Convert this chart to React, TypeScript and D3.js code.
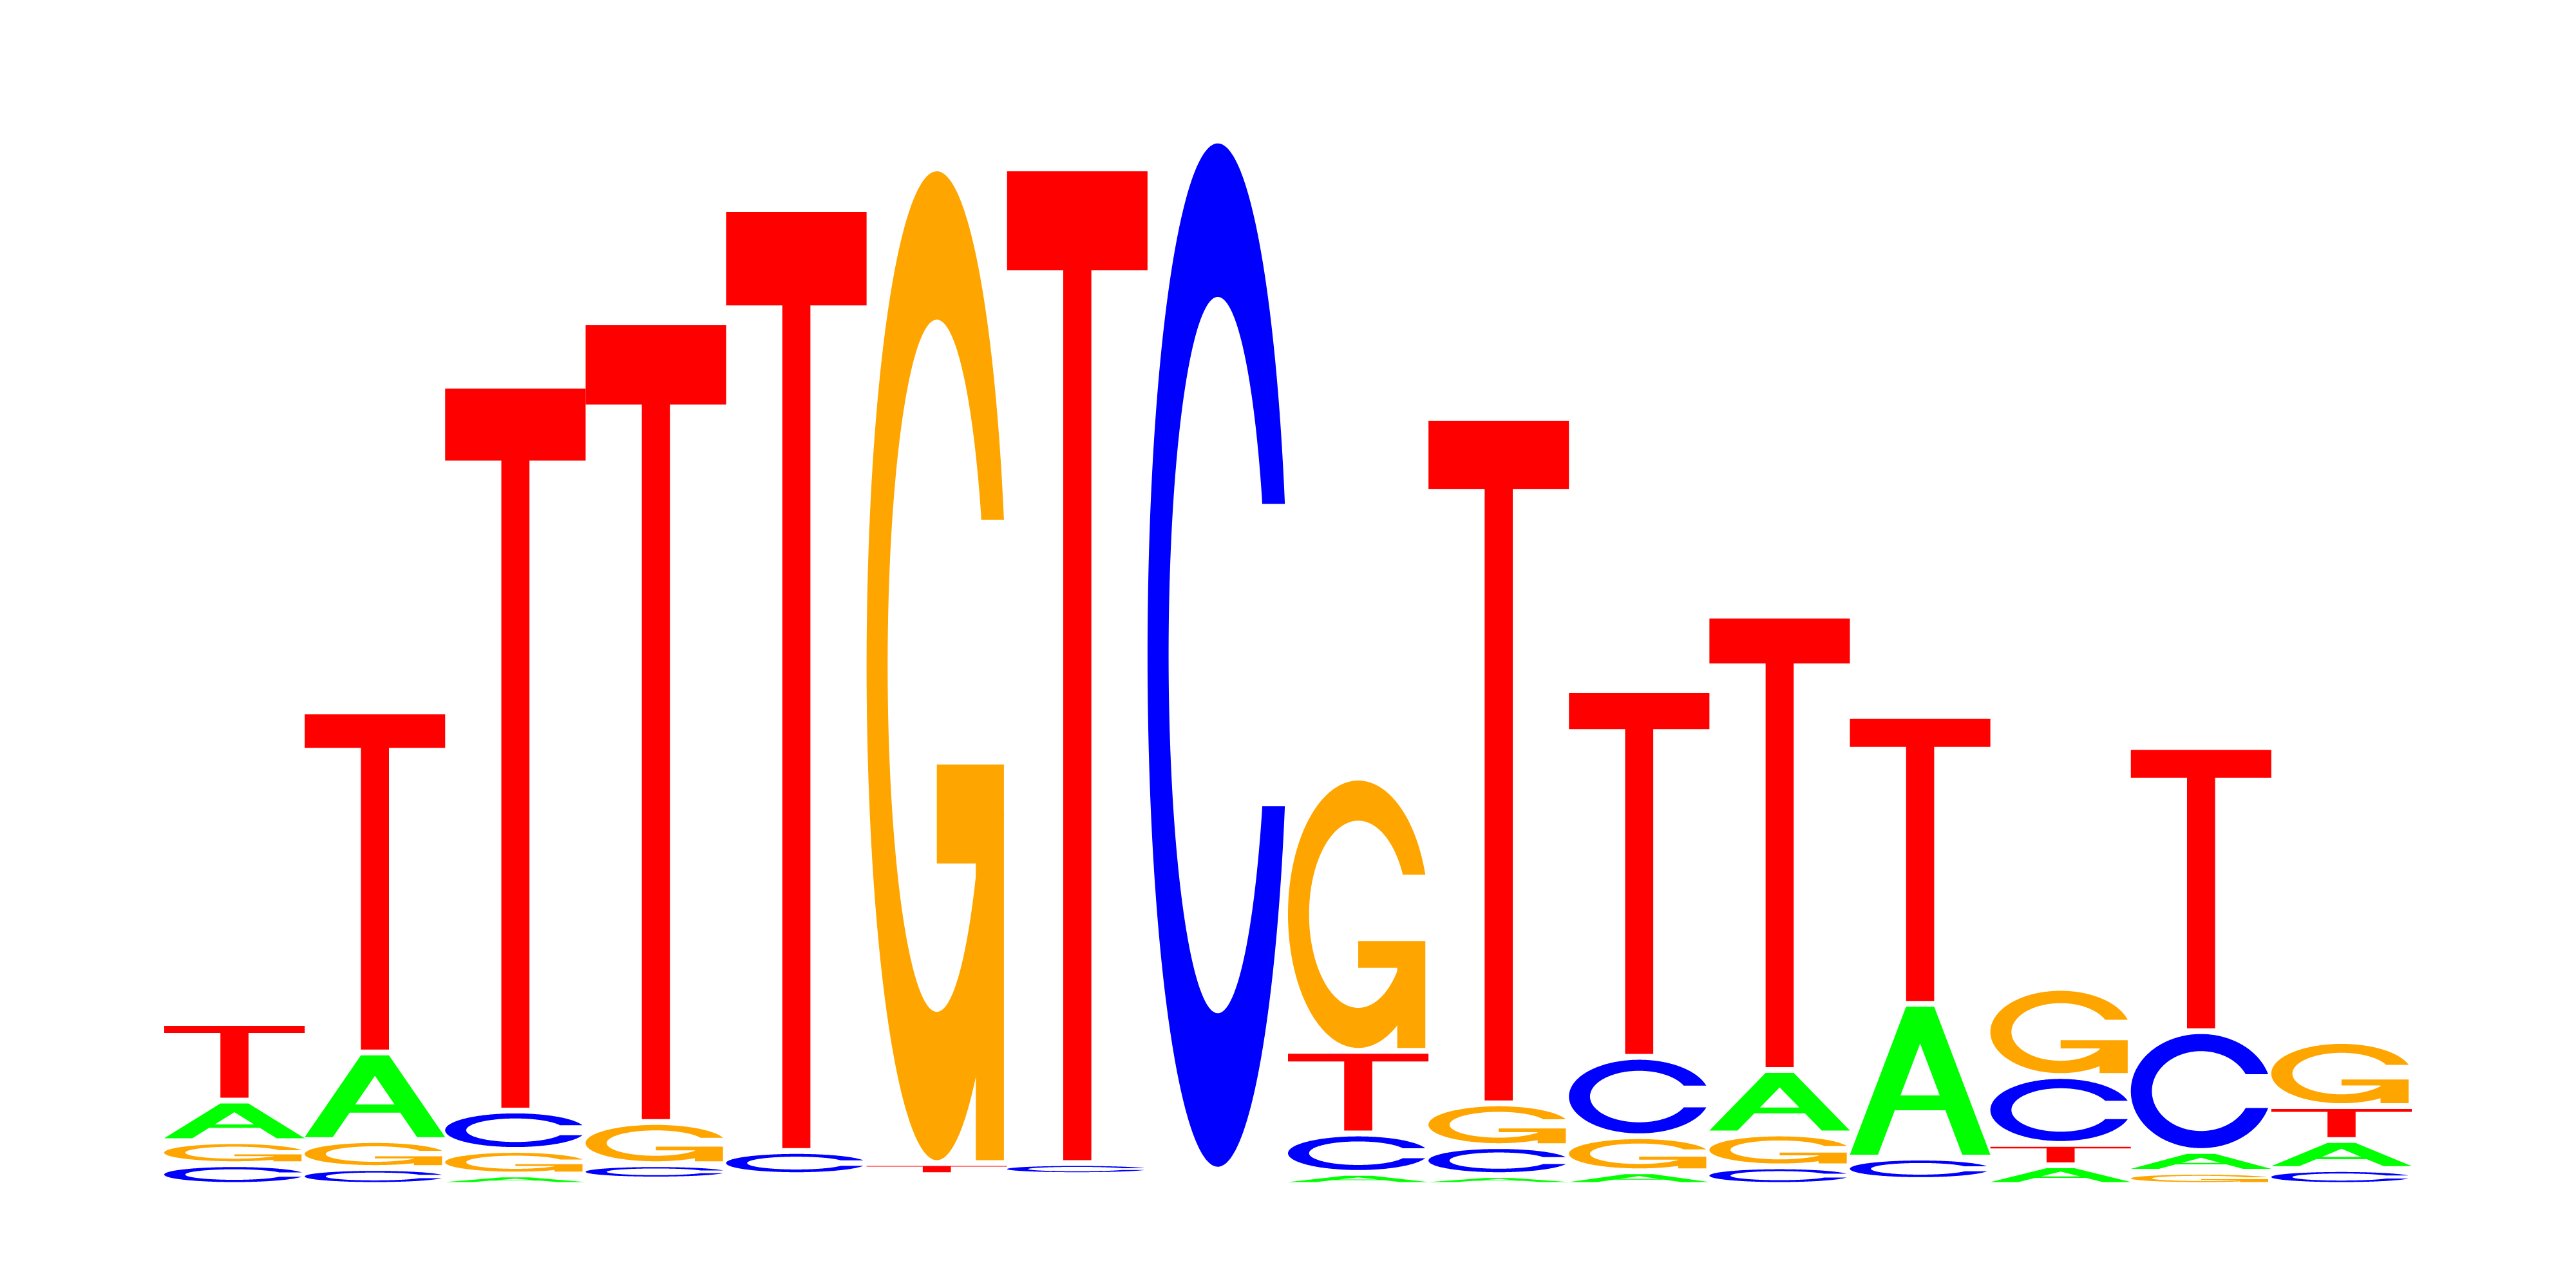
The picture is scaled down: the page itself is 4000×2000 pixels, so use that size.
import React from 'react'
import * as d3 from 'd3'

// motif positions and per-base heights (bits), read off the logo
const POSITIONS = [1, 2, 3, 4, 5, 6, 7, 8, 9, 10, 11, 12, 13, 14, 15, 16]
const BASES = ['A', 'C', 'G', 'T']
const A_BITS = [0.074, 0.160, 0.019, 0.010, 0.009, 0.009, 0.009, 0.010, 0.022, 0.018, 0.025, 0.116, 0.281, 0.036, 0.038, 0.053]
const C_BITS = [0.038, 0.031, 0.072, 0.028, 0.044, 0.009, 0.022, 1.880, 0.072, 0.053, 0.145, 0.034, 0.041, 0.124, 0.219, 0.029]
const G_BITS = [0.042, 0.051, 0.045, 0.077, 0.009, 1.817, 0.009, 0.009, 0.499, 0.078, 0.064, 0.060, 0.009, 0.161, 0.024, 0.119]
const T_BITS = [0.142, 0.623, 1.324, 1.461, 1.721, 0.022, 1.817, 0.009, 0.151, 1.252, 0.670, 0.830, 0.526, 0.039, 0.519, 0.062]

const BITS: Record<string, number[]> = { A: A_BITS, C: C_BITS, G: G_BITS, T: T_BITS }
const COLORS: Record<string, string> = { A: '#00ff00', C: '#0000ff', G: '#ffa500', T: '#ff0000' }

type Pt = [number, number]

// glyph outlines in unit box, y up (same construction as seqLogo's letters)
function seq(a: number, b: number, n: number) {
  return d3.range(n).map(i => a + (b - a) * i / (n - 1))
}

function cRing(): Pt[] {
  const a1 = seq(0.3 + Math.PI / 2, Math.PI, 100)
  const a2 = seq(Math.PI, 1.5 * Math.PI, 100)
  const outer: Pt[] = [...a1, ...a2].map(a => [0.5 + 0.5 * Math.sin(a), 0.5 + 0.5 * Math.cos(a)])
  const hcut = d3.max(a1, a => 0.5 + 0.5 * Math.cos(a))!
  let in1: Pt[] = a1.map(a => [0.5 + 0.35 * Math.sin(a), 0.5 + 0.35 * Math.cos(a)] as Pt).filter(p => p[1] <= hcut)
  in1[0] = [in1[0][0], hcut]
  const in2: Pt[] = a2.map(a => [0.5 + 0.35 * Math.sin(a), 0.5 + 0.35 * Math.cos(a)])
  const inner = [...in1, ...in2]
  const o: Pt[] = [...outer, ...outer.slice().reverse().map(([x, y]) => [x, 1 - y] as Pt)]
  const i: Pt[] = [...inner, ...inner.slice().reverse().map(([x, y]) => [x, 1 - y] as Pt)]
  return [...o, ...i.reverse()]
}

const C_RING = cRing()
const R1 = 0.5 + 0.5 * Math.cos(0.3)
const GLYPHS: Record<string, Pt[][]> = {
  A: [
    [[0, 0], [0.4, 1], [0.6, 1], [1, 0], [0.8, 0], [0.68, 0.3], [0.32, 0.3], [0.2, 0]],
    [[0.36, 0.4], [0.5, 0.75], [0.64, 0.4]],
  ],
  C: [C_RING],
  G: [C_RING, [[R1, 0.4], [0.5, 0.4], [0.5, 0.3], [R1 - 0.2, 0.3], [R1 - 0.2, 0], [R1, 0]]],
  T: [[[0, 1], [1, 1], [1, 0.9], [0.6, 0.9], [0.6, 0], [0.4, 0], [0.4, 0.9], [0, 0.9]]],
}

const W = 4000, H = 2000
const GAP = 4.5

export default function App() {
  const x = d3.scaleBand<number>().domain(POSITIONS).range([255, 3745]).padding(0)
  const y = d3.scaleLinear().domain([0, 2]).range([1840, 140])

  const marks: React.ReactNode[] = []
  POSITIONS.forEach((p, i) => {
    const stack = BASES.map(b => ({ b, v: BITS[b][i] })).sort((a, b) => a.v - b.v)
    let cum = 0
    stack.forEach(({ b, v }) => {
      const top = y(cum + v) + GAP
      const bot = y(cum) - GAP
      cum += v
      const h = bot - top
      if (h <= 0.5) return
      const x0 = x(p)!, w = x.bandwidth()
      const rings = GLYPHS[b].map(r => 'M' + r.map(([px, py]) => `${(x0 + px * w).toFixed(2)},${(bot - py * h).toFixed(2)}`).join('L') + 'Z')
      if (b === 'A') {
        marks.push(<path key={`${p}${b}`} d={rings.join('')} fill={COLORS[b]} fillRule="evenodd" />)
      } else {
        rings.forEach((d, k) => marks.push(<path key={`${p}${b}${k}`} d={d} fill={COLORS[b]} />))
      }
    })
  })

  return (
    <svg width={W} height={H} viewBox={`0 0 ${W} ${H}`} style={{ position: 'absolute', left: 0, top: 0, background: '#fff' }}>
      <rect width={W} height={H} fill="#fff" />
      {marks}
    </svg>
  )
}
